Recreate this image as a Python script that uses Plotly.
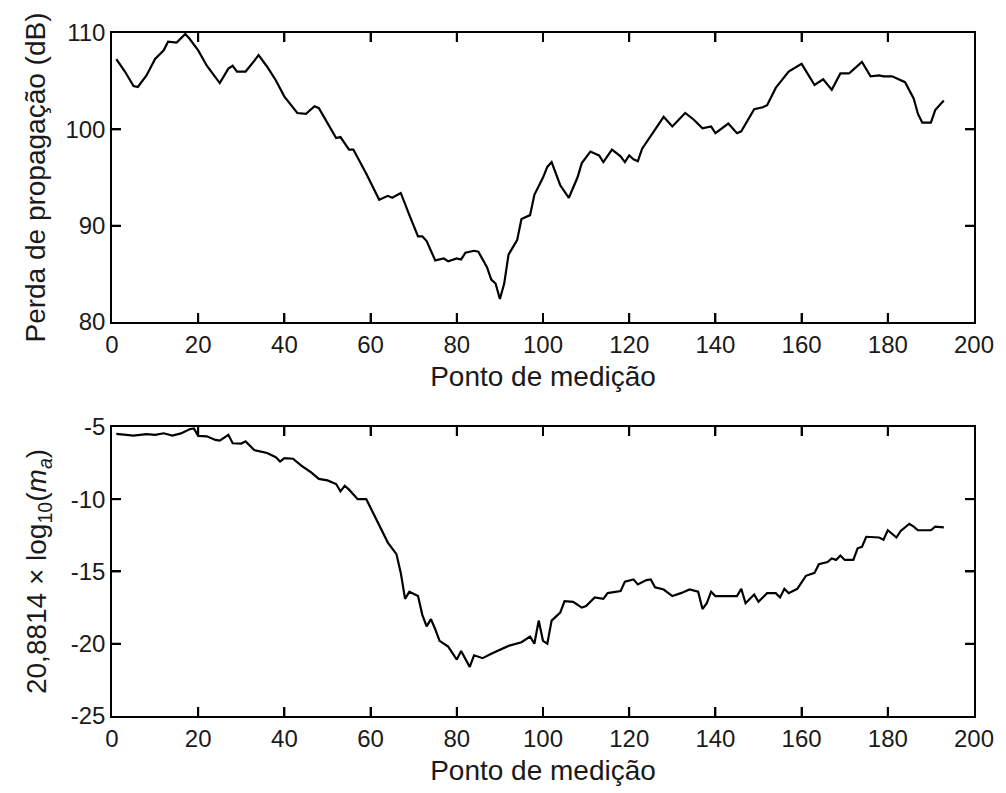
import plotly.graph_objects as go
from plotly.subplots import make_subplots

# Propagation loss along the measurement route (dB)
ponto_perda = [1, 3, 5, 6, 8, 10, 12, 13, 15, 17, 18, 20, 22, 25, 27, 28, 29, 31, 33, 34,
               36, 38, 40, 43, 45, 47, 48, 50, 52, 53, 55, 56, 59, 62, 64, 65, 67, 69, 71, 72,
               73, 75, 77, 78, 80, 81, 82, 84, 85, 87, 88, 89, 90, 91, 92, 94, 95, 97, 98, 100,
               101, 102, 104, 106, 108, 109, 111, 113, 114, 116, 118, 119, 120, 121, 122, 123, 126, 128, 130, 133,
               135, 137, 139, 140, 143, 145, 146, 149, 151, 152, 154, 157, 160, 162, 163, 165, 167, 169, 171, 172,
               174, 176, 178, 179, 181, 184, 186, 187, 188, 190, 191, 193]
perda_db = [107.3, 106.0, 104.5, 104.4, 105.6, 107.3, 108.2, 109.1, 109.0, 109.9, 109.4, 108.2, 106.6, 104.8, 106.3, 106.6, 106.0, 106.0, 107.1, 107.7,
            106.5, 105.1, 103.4, 101.7, 101.6, 102.4, 102.2, 100.6, 99.1, 99.2, 97.9, 97.9, 95.4, 92.7, 93.1, 92.9, 93.4, 91.1, 88.9, 88.9,
            88.4, 86.4, 86.6, 86.3, 86.6, 86.5, 87.2, 87.4, 87.3, 85.7, 84.4, 84.0, 82.4, 84.0, 87.0, 88.5, 90.7, 91.1, 93.2, 95.0,
            96.1, 96.6, 94.2, 92.9, 95.0, 96.5, 97.7, 97.3, 96.6, 97.9, 97.2, 96.6, 97.3, 96.9, 96.7, 98.0, 99.9, 101.3, 100.3, 101.7,
            101.0, 100.1, 100.3, 99.6, 100.6, 99.6, 99.8, 102.1, 102.3, 102.5, 104.3, 106.0, 106.8, 105.3, 104.6, 105.2, 104.1, 105.8, 105.8, 106.2,
            107.0, 105.5, 105.6, 105.5, 105.5, 104.9, 103.2, 101.6, 100.7, 100.7, 102.0, 103.0]

# 20,8814 x log10(m_a) along the same route
ponto_ma = [1, 3, 5, 8, 10, 12, 14, 16, 18, 19, 20, 22, 24, 25, 27, 28, 30, 31, 33, 36,
            38, 39, 40, 42, 44, 46, 48, 50, 52, 53, 54, 55, 57, 59, 60, 62, 64, 66, 67, 68,
            69, 71, 72, 73, 74, 75, 76, 78, 79, 80, 81, 82, 83, 84, 86, 88, 90, 92, 95, 97,
            98, 99, 100, 101, 102, 104, 105, 107, 109, 110, 112, 114, 115, 118, 119, 121, 122, 124, 125, 126,
            128, 130, 132, 134, 136, 137, 138, 139, 140, 145, 146, 147, 149, 150, 152, 154, 155, 156, 157, 159,
            161, 163, 164, 166, 167, 168, 169, 170, 172, 173, 174, 175, 178, 179, 180, 181, 182, 183, 185, 186,
            187, 190, 191, 193]
log_ma = [-5.48, -5.55, -5.6, -5.5, -5.55, -5.44, -5.6, -5.45, -5.16, -5.1, -5.62, -5.65, -5.9, -5.95, -5.55, -6.13, -6.15, -6.0, -6.6, -6.8,
          -7.1, -7.4, -7.16, -7.2, -7.7, -8.1, -8.6, -8.7, -8.95, -9.46, -9.07, -9.34, -10.0, -10.0, -10.6, -11.9, -13.0, -13.8, -15.1, -16.9,
          -16.4, -16.7, -18.0, -18.8, -18.3, -19.0, -19.8, -20.2, -20.7, -21.1, -20.5, -21.0, -21.6, -20.8, -21.0, -20.7, -20.4, -20.15, -19.9, -19.5,
          -20.0, -18.4, -19.8, -20.0, -18.4, -17.85, -17.05, -17.1, -17.5, -17.4, -16.8, -16.9, -16.5, -16.36, -15.7, -15.55, -15.9, -15.6, -15.55, -16.1,
          -16.25, -16.7, -16.5, -16.25, -16.4, -17.6, -17.2, -16.4, -16.7, -16.7, -16.2, -17.2, -16.6, -17.1, -16.5, -16.5, -16.8, -16.2, -16.5, -16.2,
          -15.3, -15.1, -14.5, -14.35, -14.1, -14.2, -13.9, -14.2, -14.2, -13.4, -13.3, -12.6, -12.65, -12.8, -12.15, -12.4, -12.65, -12.2, -11.7, -11.9,
          -12.15, -12.15, -11.9, -11.95]

x_ticks = [0, 20, 40, 60, 80, 100, 120, 140, 160, 180, 200]
y_ticks_perda = [80, 90, 100, 110]
y_ticks_ma = [-25, -20, -15, -10, -5]

FONT = "Liberation Sans, Arial, sans-serif"
TICK_SIZE = 24
TITLE_SIZE = 28
INK = "#1a1a1a"

WIDTH, HEIGHT = 1006, 793
MARGIN = dict(l=112, r=24, t=33, b=76)
V_SPACING = 0.1535
TICK_PX = 9

fig = make_subplots(rows=2, cols=1, vertical_spacing=V_SPACING)

fig.add_trace(go.Scatter(x=ponto_perda, y=perda_db, mode="lines",
                         line=dict(color="black", width=2.2), showlegend=False), row=1, col=1)
fig.add_trace(go.Scatter(x=ponto_ma, y=log_ma, mode="lines",
                         line=dict(color="black", width=2.2), showlegend=False), row=2, col=1)


def inward_ticks(xr, yr, xt, yt):
    """Short inward tick segments on all four sides of a boxed subplot."""
    plot_w = WIDTH - MARGIN["l"] - MARGIN["r"]
    plot_h = (HEIGHT - MARGIN["t"] - MARGIN["b"]) * (1 - V_SPACING) / 2
    dx = TICK_PX * (xr[1] - xr[0]) / plot_w
    dy = TICK_PX * (yr[1] - yr[0]) / plot_h
    xs, ys = [], []
    for v in xt:
        if xr[0] < v < xr[1]:
            xs += [v, v, None, v, v, None]
            ys += [yr[0], yr[0] + dy, None, yr[1], yr[1] - dy, None]
    for v in yt:
        if yr[0] < v < yr[1]:
            xs += [xr[0], xr[0] + dx, None, xr[1], xr[1] - dx, None]
            ys += [v, v, None, v, v, None]
    return go.Scatter(x=xs, y=ys, mode="lines", line=dict(color="black", width=2),
                      hoverinfo="skip", showlegend=False)


fig.add_trace(inward_ticks([0, 200], [80, 110], x_ticks, y_ticks_perda), row=1, col=1)
fig.add_trace(inward_ticks([0, 200], [-25, -5], x_ticks, y_ticks_ma), row=2, col=1)

# boxed axes
box = dict(showline=True, linecolor="black", linewidth=1.5, mirror="allticks",
           ticks="inside", ticklen=TICK_PX, tickwidth=2, tickcolor="black",
           showgrid=False, zeroline=False)
label_font = dict(family=FONT, size=TICK_SIZE, color=INK)
title_font = dict(family=FONT, size=TITLE_SIZE, color=INK)

fig.update_xaxes(range=[0, 200], tickvals=x_ticks, ticktext=[str(v) for v in x_ticks],
                 tickfont=label_font, row=1, col=1, **box)
fig.update_xaxes(range=[0, 200], tickvals=x_ticks, ticktext=[str(v) for v in x_ticks],
                 tickfont=label_font, row=2, col=1, **box)
fig.update_xaxes(title_text="Ponto de medição", title_font=title_font, title_standoff=10)

# plain ASCII hyphen in the negative tick labels
fig.update_yaxes(range=[80, 110], tickvals=y_ticks_perda, ticktext=[str(v) for v in y_ticks_perda],
                 tickfont=label_font, title_text="Perda de propagação (dB)",
                 title_font=title_font, title_standoff=12, row=1, col=1, **box)
fig.update_yaxes(range=[-25, -5], tickvals=y_ticks_ma, ticktext=[str(v) for v in y_ticks_ma],
                 tickfont=label_font,
                 title_text="20,8814 × log<sub>10</sub>(<i>m</i><sub><i>a</i></sub>)",
                 title_font=title_font, title_standoff=16, row=2, col=1, **box)

fig.update_layout(width=WIDTH, height=HEIGHT, margin=MARGIN,
                  paper_bgcolor="white", plot_bgcolor="white", showlegend=False,
                  font=dict(family=FONT, color=INK))

fig.write_html("out.html")
